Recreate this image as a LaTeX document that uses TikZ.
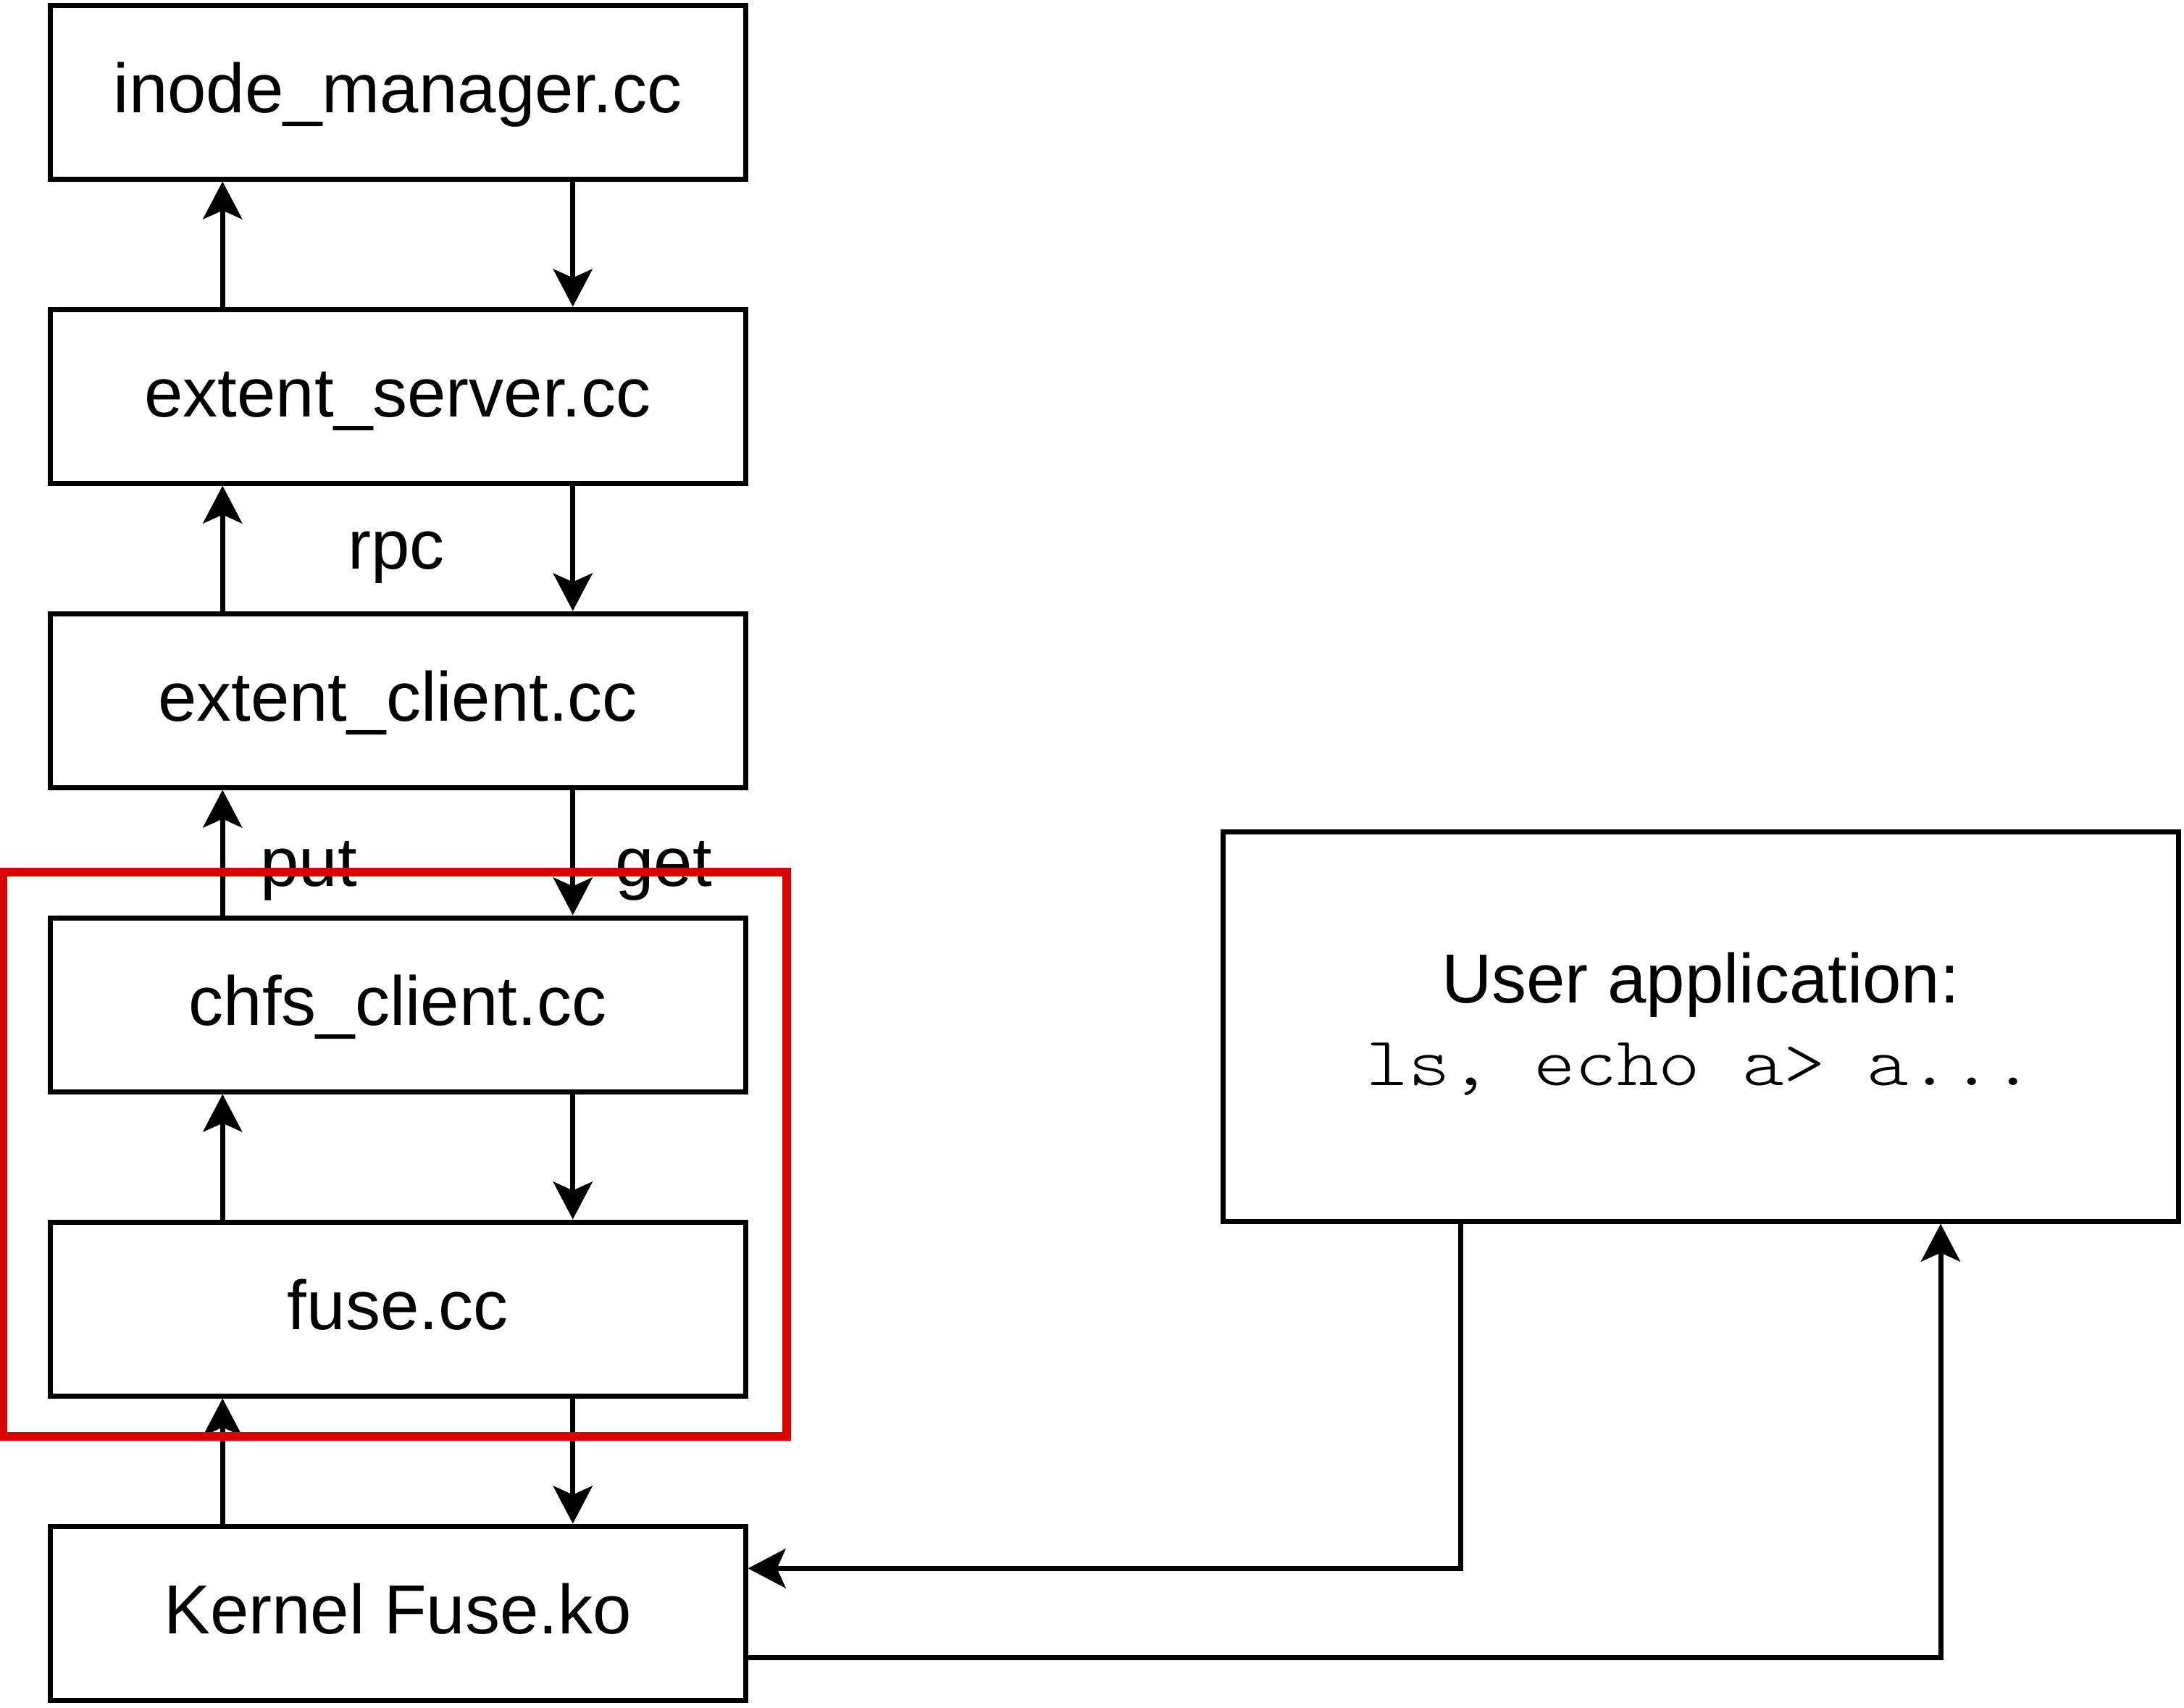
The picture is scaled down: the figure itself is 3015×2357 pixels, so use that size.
\documentclass[tikz,border=0pt]{standalone}
\usepackage{fontspec}
\setmainfont{Liberation Sans}
\newfontfamily\appmono{lmmonolt10-regular}[Extension=.otf, FakeStretch=1.143]
\usetikzlibrary{arrows.meta,calc}
\definecolor{frameRed}{RGB}{217,0,0}
\begin{document}
\begin{tikzpicture}[x=0.25pt,y=-0.25pt,
  txt/.style={font=\fontsize{24}{28.5}\selectfont},
  box/.style={txt, draw=black, line width=1.75pt, minimum width=240pt, minimum height=60pt, inner sep=0pt, align=center, text height=17pt, text depth=3pt},
  lbl/.style={txt, inner sep=0pt, text height=17pt, text depth=3pt},
  conn/.style={line width=1.75pt, -{Stealth[length=13pt,width=13.5pt,inset=3pt]}},
  redframe/.style={draw=frameRed, line width=3pt, minimum width=270.5pt, minimum height=194.75pt, inner sep=0pt}
]
\useasboundingbox (0,0) rectangle (3015,2357);

\node[box] (inode) at (549,127) {inode\_manager.cc};
\node[box] (srv)   at (549,547) {extent\_server.cc};
\node[box] (cli)   at (549,967) {extent\_client.cc};
\node[box] (chfs)  at (549,1387) {chfs\_client.cc};
\node[box] (fuse)  at (549,1807) {fuse.cc};
\node[box] (kern)  at (549,2227) {Kernel Fuse.ko};
\node[box, minimum width=329.75pt, minimum height=134.5pt, text height=44pt, text depth=3.5pt] (app) at (2347.5,1417) {User application:\\{\appmono ls, echo a> a...}};

\node[lbl] (rpc) at (547,757) {rpc};
\node[lbl] (put) at (426,1195) {put};
\node[lbl] (get) at (916,1195) {get};

\foreach \lo/\hi in {srv/inode, cli/srv, chfs/cli, fuse/chfs, kern/fuse}{
  \draw[conn] ($(\lo.north west)!0.25!(\lo.north east)$) -- ($(\hi.south west)!0.25!(\hi.south east)$);
  \draw[conn] ($(\hi.south west)!0.75!(\hi.south east)$) -- ($(\lo.north west)!0.75!(\lo.north east)$);
}

\draw[conn] ($(app.south west)!0.25!(app.south east)$) |- ($(kern.north east)!0.25!(kern.south east)$);
\draw[conn] ($(kern.north east)!0.75!(kern.south east)$) -| ($(app.south west)!0.75!(app.south east)$);

\node[redframe] (frame) at (545,1593.5) {};
\end{tikzpicture}
\end{document}
